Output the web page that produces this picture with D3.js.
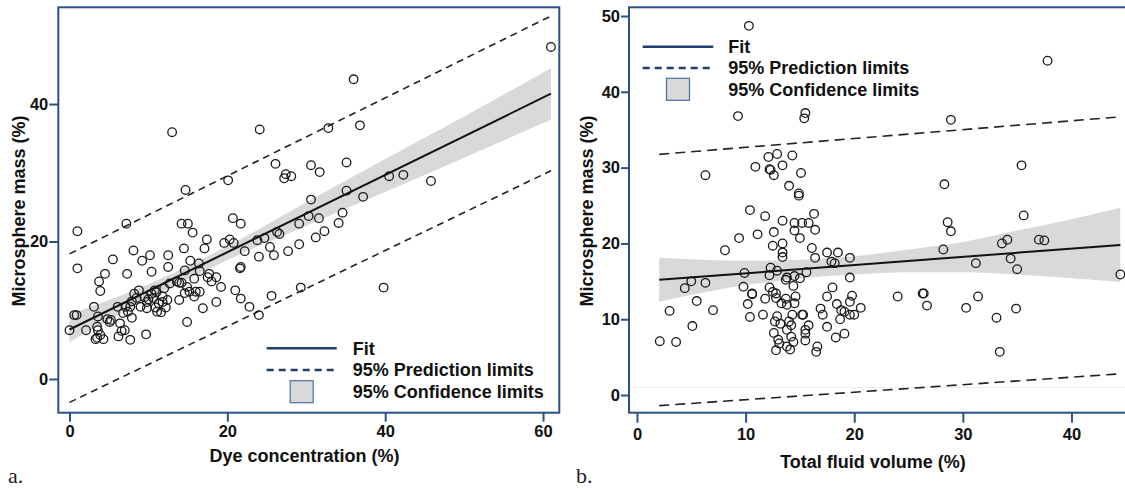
<!DOCTYPE html>
<html>
<head>
<meta charset="utf-8">
<script src="https://d3js.org/d3.v7.min.js"></script>
<style>
    body { margin: 0; background: #ffffff; }
    #fig .font { font-family: "Liberation Sans", Arial, sans-serif; font-weight: bold; fill: #111111; }
    #fig .tick-label { font-size: 16.5px; }
    #fig .axis-title { font-size: 18px; }
    #fig .legend-text { font-size: 18px; }
    #fig .panel-tag { font-family: "Liberation Serif", "Times New Roman", serif; font-size: 22px; fill: #222222; }
    #fig .frame { fill: none; stroke: #2c5285; stroke-width: 2; }
    #fig .axis line { stroke: #2c5285; stroke-width: 2; }
    #fig .axis path { display: none; }
    #fig .band { fill: #d9d9d9; stroke: none; }
    #fig .fit { fill: none; stroke: #111111; stroke-width: 2; }
    #fig .pred { fill: none; stroke: #222222; stroke-width: 1.6; }
    #fig .pt { fill: none; stroke: #1a1a1a; stroke-width: 1.3; }
    #fig .leg-line { stroke: #1f3f70; stroke-width: 2.5; fill: none; }
    #fig .leg-box { fill: #d9d9d9; stroke: #4a6fa0; stroke-width: 1.2; }
</style>
</head>
<body>
<script>
// ---- panel a: dye concentration ----
const ticksXA = [0, 20, 40, 60];
const ticksYA = [0, 20, 40];
const fitA = [[0, 7.2], [61, 41.5]];
const predUpperA = [[0, 18.2], [61, 52.8]];
const predLowerA = [[0, -3.4], [61, 30.3]];
// x, lower, upper
const confA = [[0, 5.4, 9.4], [10, 11.6, 13.8], [20, 17.3, 19.3], [30, 22.3, 25.7],
               [40, 27.2, 32.0], [50, 32.2, 38.2], [61, 37.7, 45.2]];
const pointsA = [
    [0, 7.1], [0.6, 9.3], [0.9, 9.3], [1.0, 21.5], [1.0, 16.1], [2.1, 7.1], [3.1, 10.5], [3.3, 5.8],
    [3.5, 6.0], [3.5, 7.6], [3.6, 7.1], [3.6, 9.1], [3.75, 14.2], [3.9, 12.8], [3.9, 6.4], [4.3, 5.8],
    [4.5, 15.3], [4.8, 8.7], [5.1, 8.3], [5.25, 8.6], [5.5, 17.4], [6.1, 10.5], [6.2, 6.2], [6.4, 8.1],
    [6.6, 7.0], [7.0, 7.1], [7.1, 10.5], [7.2, 22.6], [7.3, 15.3], [7.4, 9.8], [7.7, 5.7], [7.7, 10.5],
    [7.9, 11.3], [7.9, 8.9], [8.1, 18.7], [8.2, 12.4], [8.8, 12.9], [9.0, 10.5], [9.2, 17.2], [9.5, 11.9],
    [9.7, 6.5], [9.8, 10.3], [9.8, 11.2], [10.2, 18.0], [10.4, 15.6], [10.4, 12.4], [10.6, 11.8], [10.8, 12.9],
    [11.1, 9.8], [11.3, 11.0], [11.6, 9.7], [11.8, 12.0], [11.8, 11.2], [12.0, 13.2], [12.2, 10.4], [12.5, 18.0],
    [12.5, 16.3], [12.7, 13.9], [13.0, 35.9], [13.9, 11.5], [13.9, 14.0], [14.2, 14.0], [14.2, 22.6], [14.5, 19.0],
    [14.6, 15.8], [14.6, 12.5], [14.7, 27.5], [14.9, 8.3], [14.9, 13.4], [15.0, 22.6], [15.2, 12.7], [15.3, 17.2],
    [15.6, 21.3], [15.8, 14.6], [15.8, 12.0], [16.0, 12.7], [16.4, 16.8], [16.5, 12.7], [16.5, 15.7], [16.9, 10.3],
    [17.1, 19.0], [17.4, 20.3], [17.5, 14.8], [17.7, 15.3], [18.0, 14.2], [18.6, 11.2], [18.6, 14.8], [19.2, 13.4],
    [19.6, 19.8], [20.1, 28.9], [20.3, 20.3], [20.7, 23.4], [20.8, 19.8], [21.0, 12.9], [21.6, 16.1], [21.7, 22.6],
    [21.7, 16.3], [21.7, 11.7], [22.2, 18.6], [22.8, 10.5], [23.8, 20.2], [24.0, 17.8], [24.0, 9.3], [24.1, 36.3],
    [24.7, 20.5], [25.4, 19.2], [25.6, 12.1], [25.9, 18.0], [26.1, 31.3], [26.3, 21.4], [26.6, 21.1], [27.2, 29.2],
    [27.4, 29.8], [27.7, 18.6], [28.1, 29.5], [29.1, 22.6], [29.1, 19.6], [29.3, 13.3], [30.3, 23.7], [30.6, 31.1],
    [30.6, 26.1], [31.2, 20.6], [31.6, 23.4], [31.7, 30.1], [32.3, 21.5], [32.8, 36.5], [34.1, 22.7], [34.6, 24.2],
    [35.1, 31.5], [35.1, 27.4], [36.0, 43.6], [36.8, 36.9], [37.2, 26.5], [39.8, 13.3], [40.5, 29.5], [42.3, 29.7],
    [45.8, 28.8], [61.0, 48.3],
    [10.0, 11.6], [11.0, 12.6], [12.4, 11.5], [6.8, 9.6], [8.5, 11.8], [10.9, 10.4], [13.6, 14.2]
];

// ---- panel b: total fluid volume ----
const ticksXB = [0, 10, 20, 30, 40];
const ticksYB = [0, 10, 20, 30, 40, 50];
const fitB = [[2.05, 15.2], [44.5, 19.8]];
const predUpperB = [[2.05, 31.75], [44.5, 36.7]];
const predLowerB = [[2.05, -1.4], [44.5, 2.8]];
const confB = [[2.05, 12.3, 18.1], [10, 14.5, 17.7], [16, 15.5, 17.9], [20, 15.9, 18.3], [25, 16.2, 19.2],
               [30, 16.2, 20.2], [35, 15.9, 21.7], [40, 15.4, 23.2], [44.5, 14.9, 24.7]];
const pointsB = [
    [10.3, 48.7], [37.8, 44.1], [9.3, 36.8], [15.5, 37.2], [15.4, 36.5], [28.9, 36.3], [6.3, 29.0], [10.9, 30.1],
    [12.1, 31.4], [12.9, 31.8], [14.3, 31.6], [13.4, 30.3], [12.2, 29.8], [12.3, 29.7], [12.6, 29.0], [15.1, 29.3],
    [14.0, 27.6], [14.9, 26.6], [14.9, 26.3], [28.3, 27.8], [35.4, 30.3], [10.4, 24.4], [11.8, 23.6], [13.4, 23.0],
    [14.5, 22.7], [15.2, 22.7], [15.8, 22.7], [16.3, 23.9], [16.4, 21.8], [14.5, 21.7], [15.0, 20.7], [12.6, 21.5],
    [11.1, 21.2], [9.4, 20.7], [8.1, 19.1], [13.4, 20.0], [12.5, 19.7], [13.4, 18.8], [13.4, 18.2], [16.1, 19.4],
    [17.5, 18.8], [18.5, 18.8], [16.4, 18.1], [17.9, 17.6], [18.2, 17.4], [19.6, 18.1], [35.6, 23.7], [28.6, 22.8],
    [28.9, 21.6], [34.1, 20.5], [33.6, 20.0], [37.0, 20.5], [37.5, 20.4], [28.2, 19.2], [34.4, 18.0], [31.2, 17.4],
    [35.0, 16.6], [44.5, 15.9], [9.9, 16.1], [12.3, 16.8], [12.9, 16.4], [12.2, 15.8], [15.6, 16.2], [15.0, 15.4],
    [13.7, 15.2], [13.8, 15.5], [14.5, 15.7], [19.6, 15.5], [5.0, 15.0], [6.3, 14.8], [4.4, 14.1], [9.8, 14.3],
    [12.2, 14.2], [14.4, 14.4], [18.0, 14.2], [12.5, 13.6], [12.8, 13.4], [10.6, 13.4], [10.6, 13.3], [26.3, 13.4],
    [26.4, 13.4], [12.8, 12.8], [11.8, 12.7], [13.7, 12.7], [14.6, 13.0], [17.5, 13.0], [19.8, 13.1], [24.0, 13.0],
    [31.4, 13.0], [5.5, 12.4], [13.3, 12.1], [13.8, 11.9], [14.5, 12.1], [19.6, 12.3], [18.4, 12.0], [10.2, 12.0],
    [26.7, 11.8], [16.9, 11.4], [17.1, 10.6], [18.8, 11.2], [19.1, 11.0], [19.6, 10.6], [20.0, 10.6], [20.6, 11.5],
    [30.3, 11.5], [34.9, 11.4], [3.0, 11.1], [7.0, 11.2], [11.6, 10.6], [10.4, 10.3], [12.9, 10.4], [15.2, 10.6],
    [15.3, 10.6], [14.3, 10.6], [12.7, 9.7], [13.2, 9.4], [14.0, 9.7], [14.2, 9.2], [15.8, 9.2], [17.5, 9.0],
    [18.7, 10.0], [33.1, 10.2], [5.1, 9.1], [13.8, 8.6], [15.5, 8.6], [15.5, 8.1], [12.6, 8.2], [19.1, 8.1],
    [14.2, 7.7], [18.3, 7.6], [13.0, 7.3], [13.1, 6.8], [14.4, 7.0], [15.5, 7.2], [2.1, 7.1], [3.6, 7.0],
    [13.8, 6.4], [16.6, 6.4], [12.8, 5.9], [14.1, 6.0], [16.5, 5.7], [33.4, 5.7]
];

const legendLabels = ["Fit", "95% Prediction limits", "95% Confidence limits"];

const SVG_WIDTH = 1125;
const SVG_HEIGHT = 489;

var svg = d3.select("body")
    .append("svg")
    .attr("id", "fig")
    .attr("width", SVG_WIDTH)
    .attr("height", SVG_HEIGHT);

svg.append("rect")
    .attr("width", SVG_WIDTH)
    .attr("height", SVG_HEIGHT)
    .attr("fill", "#ffffff");

function drawPanel(cfg) {
    var x = d3.scaleLinear().domain(cfg.xDomain).range([cfg.left, cfg.right]);
    var y = d3.scaleLinear().domain(cfg.yDomain).range([cfg.bottom, cfg.top]);

    var clipId = "clip-" + cfg.name;
    svg.append("clipPath")
        .attr("id", clipId)
        .append("rect")
        .attr("x", cfg.left)
        .attr("y", cfg.top)
        .attr("width", cfg.right - cfg.left)
        .attr("height", cfg.bottom - cfg.top);

    var plot = svg.append("g").attr("clip-path", "url(#" + clipId + ")");

    if (cfg.faintY !== undefined) {
        plot.append("line")
            .attr("x1", cfg.left).attr("x2", cfg.right)
            .attr("y1", y(cfg.faintY)).attr("y2", y(cfg.faintY))
            .attr("stroke", "#eeeeee").attr("stroke-width", 1);
    }

    var area = d3.area()
        .x(function(d) { return x(d[0]); })
        .y0(function(d) { return y(d[1]); })
        .y1(function(d) { return y(d[2]); })
        .curve(d3.curveMonotoneX);
    plot.append("path").datum(cfg.conf).classed("band", true).attr("d", area);

    var line = d3.line()
        .x(function(d) { return x(d[0]); })
        .y(function(d) { return y(d[1]); });
    [cfg.predUpper, cfg.predLower].forEach(function(p) {
        plot.append("path").datum(p)
            .classed("pred", true)
            .attr("stroke-dasharray", cfg.dash)
            .attr("stroke-width", cfg.dashWidth)
            .attr("d", line);
    });

    plot.selectAll(".pt-" + cfg.name)
        .data(cfg.points)
        .enter()
        .append("circle")
        .classed("pt", true)
        .attr("cx", function(d) { return x(d[0]); })
        .attr("cy", function(d) { return y(d[1]); })
        .attr("r", 4.3);

    plot.append("path").datum(cfg.fit).classed("fit", true).attr("d", line);

    // axes
    var xAxis = d3.axisBottom(x)
        .tickValues(cfg.xTicks)
        .tickSize(cfg.xTickLen)
        .tickSizeOuter(0)
        .tickPadding(cfg.xTickPad);
    var xg = svg.append("g")
        .classed("axis", true)
        .attr("transform", "translate(0," + cfg.bottom + ")")
        .call(xAxis);
    xg.selectAll("text").attr("class", "font tick-label").attr("fill", null);

    var yAxis = d3.axisLeft(y)
        .tickValues(cfg.yTicks)
        .tickSize(cfg.yTickLen)
        .tickSizeOuter(0)
        .tickPadding(1);
    var yg = svg.append("g")
        .classed("axis", true)
        .attr("transform", "translate(" + cfg.left + ",0)")
        .call(yAxis);
    yg.selectAll("text").attr("class", "font tick-label").attr("fill", null);

    svg.append("rect")
        .classed("frame", true)
        .attr("x", cfg.left)
        .attr("y", cfg.top)
        .attr("width", cfg.right - cfg.left)
        .attr("height", cfg.bottom - cfg.top);

    svg.append("text")
        .classed("font axis-title", true)
        .attr("x", cfg.xTitleX)
        .attr("y", cfg.xTitleY)
        .attr("text-anchor", "middle")
        .text(cfg.xTitle);

    svg.append("text")
        .classed("font axis-title", true)
        .attr("transform", "translate(" + cfg.yTitleX + "," + cfg.yTitleY + ") rotate(-90)")
        .attr("text-anchor", "middle")
        .text(cfg.yTitle);

    svg.append("text")
        .classed("panel-tag", true)
        .attr("x", cfg.tagX)
        .attr("y", cfg.tagY)
        .text(cfg.tag);

    // legend
    var lg = cfg.legend;
    svg.append("line").classed("leg-line", true)
        .attr("x1", lg.x0).attr("x2", lg.x1).attr("y1", lg.y).attr("y2", lg.y);
    svg.append("line").classed("leg-line", true)
        .attr("stroke-dasharray", "7 5")
        .attr("x1", lg.x0).attr("x2", lg.x1).attr("y1", lg.y + lg.step).attr("y2", lg.y + lg.step);
    svg.append("rect").classed("leg-box", true)
        .attr("x", (lg.x0 + lg.x1) / 2 - 11.5)
        .attr("y", lg.y + 2 * lg.step - 11)
        .attr("width", 23)
        .attr("height", 22);
    svg.selectAll(".leg-text-" + cfg.name)
        .data(legendLabels)
        .enter()
        .append("text")
        .classed("font legend-text", true)
        .attr("x", lg.textX)
        .attr("y", function(d, i) { return lg.y + i * lg.step; })
        .attr("dy", "0.36em")
        .text(function(d) { return d; });
}

drawPanel({
    name: "a",
    left: 58.3, right: 559.3, top: 7.3, bottom: 412.7,
    xDomain: [-1.42, 62.06],
    yDomain: [-4.9, 54.07],
    xTicks: ticksXA, yTicks: ticksYA,
    xTickLen: 9, xTickPad: 4, yTickLen: 9,
    dash: "7 5", dashWidth: 1.6,
    fit: fitA, predUpper: predUpperA, predLower: predLowerA, conf: confA, points: pointsA,
    xTitle: "Dye concentration (%)", xTitleX: 304.5, xTitleY: 462,
    yTitle: "Microsphere mass (%)", yTitleX: 25, yTitleY: 211,
    tag: "a.", tagX: 8, tagY: 483,
    legend: { x0: 266.7, x1: 336.7, y: 348.3, step: 21.7, textX: 352.7 }
});

drawPanel({
    name: "b",
    left: 629, right: 1126, top: 7.3, bottom: 412.7,
    xDomain: [-0.735, 45.02],
    yDomain: [-2.33, 51.15],
    xTicks: ticksXB, yTicks: ticksYB,
    xTickLen: 10, xTickPad: 5.5, yTickLen: 8,
    dash: "10 6", dashWidth: 2,
    fit: fitB, predUpper: predUpperB, predLower: predLowerB, conf: confB, points: pointsB,
    faintY: 1.0,
    xTitle: "Total fluid volume (%)", xTitleX: 873, xTitleY: 467.5,
    yTitle: "Microsphere mass (%)", yTitleX: 593, yTitleY: 211,
    tag: "b.", tagX: 576, tagY: 483,
    legend: { x0: 642.7, x1: 713.3, y: 46.7, step: 21.3, textX: 728.3 }
});
</script>
</body>
</html>
